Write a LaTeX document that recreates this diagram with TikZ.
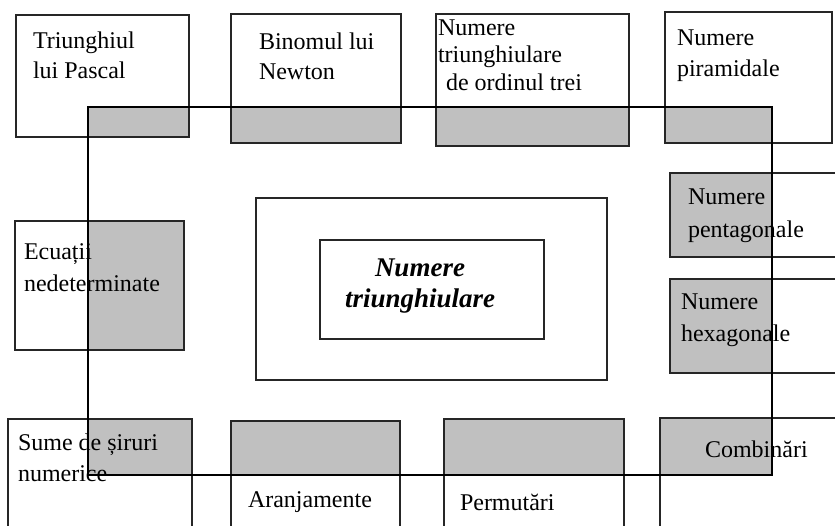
\documentclass[tikz,border=0pt]{standalone}
\usepackage{fontspec}
\setmainfont{Liberation Serif}
\definecolor{greyfill}{RGB}{192,192,192}
\tikzset{
  frame/.style={anchor=north west, inner sep=0pt, outer sep=0pt},
  edge/.style={draw=black!85, line width=1.2pt},
  lbl/.style={anchor=base west, inner sep=0pt, outer sep=0pt, font=\fontsize{24}{30}\selectfont},
  mainlbl/.style={anchor=base west, inner sep=0pt, outer sep=0pt, font=\fontsize{27}{32}\selectfont\bfseries\itshape},
  loopline/.style={draw=black, line width=1.4pt}
}
\begin{document}
\begin{tikzpicture}[x=1pt,y=-1pt]
\clip (0,0) rectangle (835,526);
\fill[white] (0,0) rectangle (835,526);
% boxes
\node[frame, minimum width=173pt, minimum height=122pt] (pascal) at (16,15) {};
\node[frame, minimum width=170pt, minimum height=129pt] (newton) at (231,14) {};
\node[frame, minimum width=193pt, minimum height=132pt] (ordin) at (436,14) {};
\node[frame, minimum width=167pt, minimum height=131pt] (piram) at (665,12) {};
\node[frame, minimum width=169pt, minimum height=129pt] (ecuatii) at (15,221) {};
\node[frame, minimum width=351pt, minimum height=182pt] (outer) at (256,198) {};
\node[frame, minimum width=224pt, minimum height=99pt] (inner) at (320,240) {};
\node[frame, minimum width=175pt, minimum height=84pt] (penta) at (670,173) {};
\node[frame, minimum width=175pt, minimum height=94pt] (hexa) at (670,279) {};
\node[frame, minimum width=184pt, minimum height=115pt] (sume) at (8,419) {};
\node[frame, minimum width=169pt, minimum height=113pt] (aranj) at (231,421) {};
\node[frame, minimum width=180pt, minimum height=115pt] (perm) at (444,419) {};
\node[frame, minimum width=185pt, minimum height=116pt] (comb) at (660,418) {};
% loop
\coordinate (L1) at (88,107);
\coordinate (L2) at (772,107);
\coordinate (L3) at (772,475);
\coordinate (L4) at (88,475);
\begin{scope}
  \clip (L1) rectangle (L3);
  \foreach \n in {pascal,newton,ordin,piram,ecuatii,penta,hexa,sume,aranj,perm,comb}
    \fill[greyfill] (\n.south west) rectangle (\n.north east);
\end{scope}
\foreach \n in {pascal,newton,ordin,piram,ecuatii,penta,hexa,sume,aranj,perm,comb,outer,inner}
  \draw[edge] (\n.south west) rectangle (\n.north east);
% texts
\node[lbl] (t1a) at (33,49) {Triunghiul};
\node[lbl] (t1b) at (33,79) {lui Pascal};
\node[lbl] (t2a) at (259,50) {Binomul lui};
\node[lbl] (t2b) at (259,80) {Newton};
\node[lbl] (t3a) at (438,36) {Numere};
\node[lbl] (t3b) at (438,63) {triunghiulare};
\node[lbl] (t3c) at (446,91) {de ordinul trei};
\node[lbl] (t4a) at (677,46) {Numere};
\node[lbl] (t4b) at (677,77) {piramidale};
\node[lbl] (t5a) at (24,260) {Ecuații};
\node[lbl] (t5b) at (24,292) {nedeterminate};
\node[lbl] (t6a) at (688,205) {Numere};
\node[lbl] (t6b) at (688,238) {pentagonale};
\node[lbl] (t7a) at (681,310) {Numere};
\node[lbl] (t7b) at (681,342) {hexagonale};
\node[lbl] (t8a) at (18,450) {Sume de șiruri};
\node[lbl] (t8b) at (18,481) {numerice};
\node[lbl] (t9) at (248,507) {Aranjamente};
\node[lbl] (t10) at (460,510) {Permutări};
\node[lbl] (t11) at (705,457) {Combinări};
\node[mainlbl] (c1) at (375,277) {Numere};
\node[mainlbl] (c2) at (345,308) {triunghiulare};
% loop line on top
\draw[loopline] (L1) -- (L2) -- (L3) -- (L4) -- cycle;
\end{tikzpicture}
\end{document}
